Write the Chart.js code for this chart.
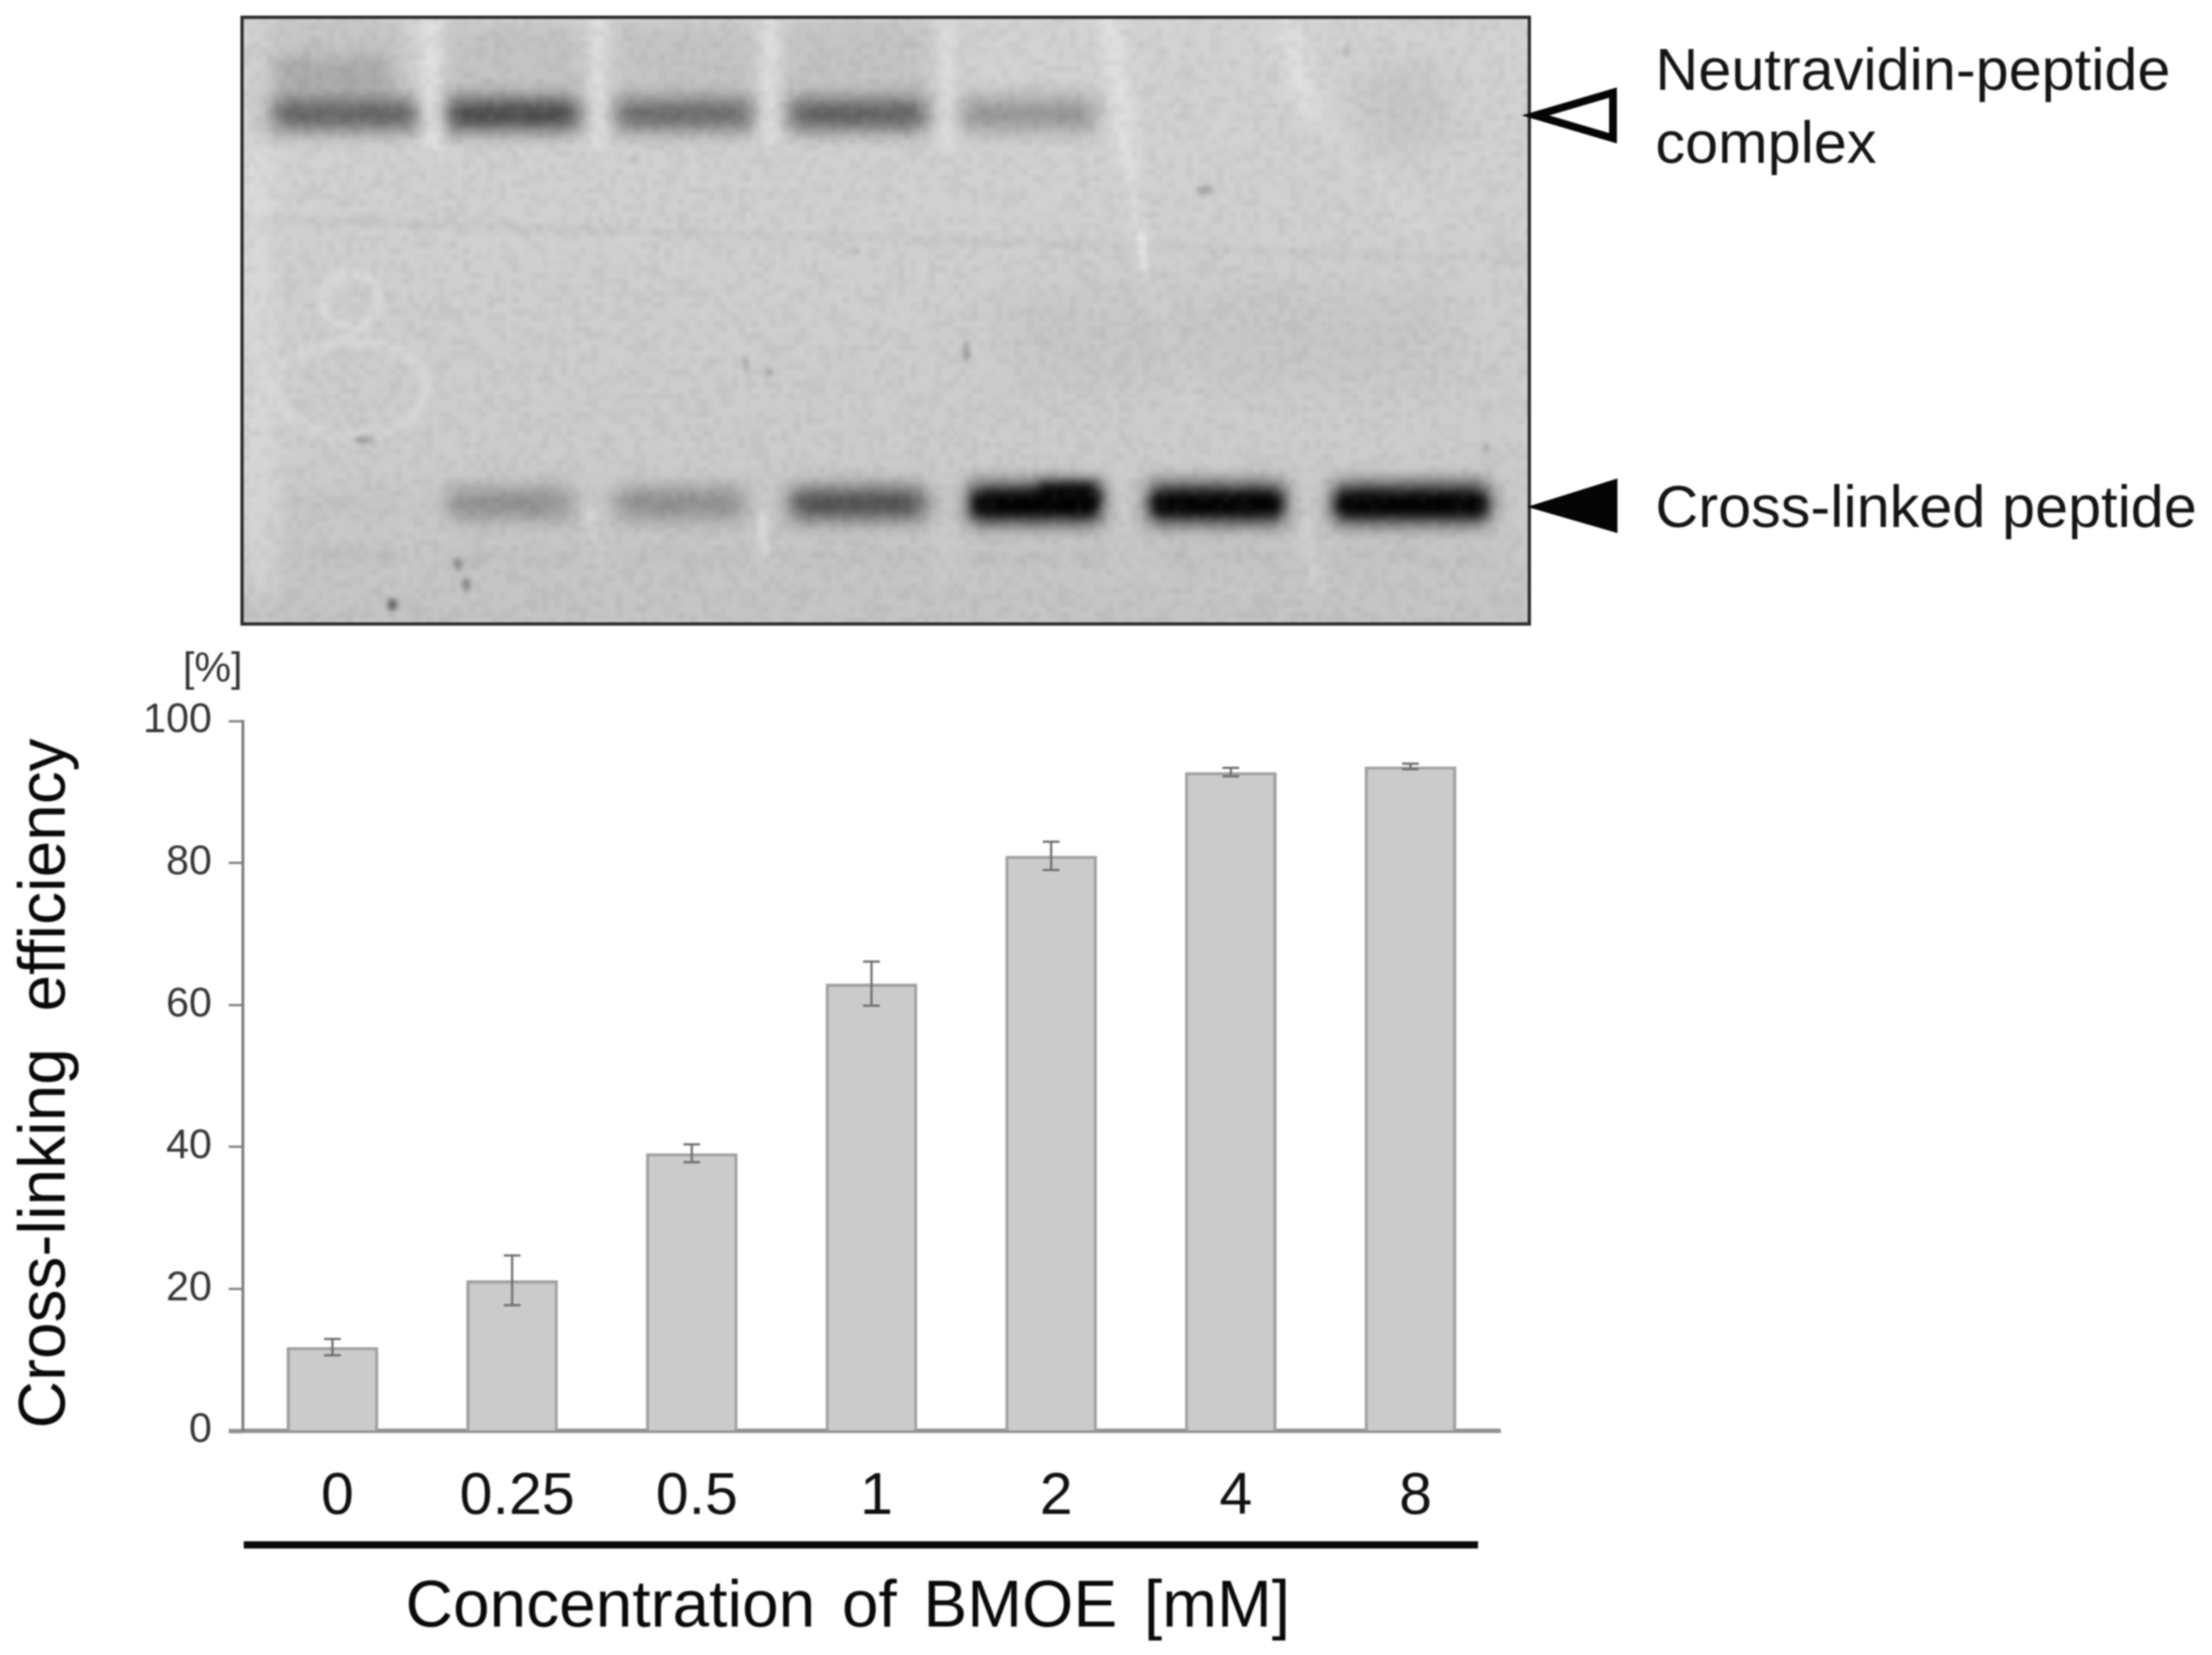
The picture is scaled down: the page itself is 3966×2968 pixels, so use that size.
<!DOCTYPE html>
<html>
<head>
<meta charset="utf-8">
<title>Cross-linking efficiency</title>
<script src="https://cdn.jsdelivr.net/npm/chart.js@4/dist/chart.umd.js"></script>
<style>
    html, body { margin: 0; padding: 0; background: #fff; }
    canvas { display: block; filter: blur(1.4px); }
</style>
</head>
<body>
<canvas id="chart" width="3966" height="2968"></canvas>
<script>
// Values
const categories = ['0', '0.25', '0.5', '1', '2', '4', '8'];
const efficiency = [11.8, 21.2, 39.1, 63, 81, 92.8, 93.6];
const errors = [1.15, 3.5, 1.25, 3.1, 2, 0.6, 0.4];

// Band darkness per gel lane, 0 = none, 1 = black (null = no band)
const complexBand = [0.56, 0.7, 0.52, 0.58, 0.3, null, null];
const peptideBand = [0.02, 0.32, 0.34, 0.7, 1, 1, 1];

const yTitle = 'Cross-linking efficiency';
const xTitle = 'Concentration of BMOE [mM]';
const unitLabel = '[%]';
const complexLabel = ['Neutravidin-peptide', 'complex'];
const peptideLabel = 'Cross-linked peptide';

const FONT = '"Liberation Sans", Arial, sans-serif';
const GEL = { left: 434, top: 31, right: 2742, bottom: 1119 };

// Gel lane extents [left, right]
const complexLanes = [[484, 752], [797, 1042], [1100, 1353], [1411, 1664], [1720, 1968]];
const peptideLanes = [[500, 714], [797, 1030], [1100, 1340], [1411, 1664], [1732, 1980], [2054, 2309], [2385, 2676]];

// Small marks on the gel [x, y, rx, ry, alpha]
const specks = [
    [703, 1084, 9, 11, 0.45], [836, 1048, 8, 11, 0.3], [821, 1012, 8, 11, 0.25],
    [653, 789, 18, 7, 0.22], [2161, 341, 15, 8, 0.22], [1732, 631, 7, 18, 0.22],
    [1337, 653, 5, 14, 0.18], [1380, 668, 6, 6, 0.22], [2414, 92, 5, 10, 0.18],
    [2666, 803, 5, 8, 0.2], [1135, 286, 4, 7, 0.1], [1533, 451, 6, 8, 0.08]
];

// Soft streaks on the gel [x1, y1, x2, y2, width, alpha]
const lightStreaks = [
    [775, 31, 775, 260, 26, 0.5], [1074, 31, 1074, 260, 22, 0.4], [1380, 31, 1380, 260, 24, 0.4],
    [1694, 31, 1698, 260, 22, 0.35], [1990, 31, 2023, 293, 30, 0.45], [2023, 293, 2046, 440, 18, 0.3],
    [2046, 425, 2050, 480, 11, 0.6], [2050, 480, 2146, 734, 24, 0.12], [2300, 31, 2345, 190, 36, 0.4],
    [2345, 190, 2560, 420, 26, 0.12], [1058, 905, 1062, 960, 14, 0.25], [1365, 925, 1370, 990, 16, 0.4],
    [2345, 935, 2365, 1070, 18, 0.22], [1700, 930, 1700, 1040, 16, 0.12], [462, 280, 466, 1040, 50, 0.3]
];

function softRect(ctx, x, y, w, h, alpha, blur) {
    ctx.filter = `blur(${blur}px)`;
    ctx.fillStyle = `rgba(0, 0, 0, ${alpha})`;
    ctx.fillRect(x, y, w, h);
}

function gelTexture() {
    // Fixed mottling, stretched up when it is painted
    const cells = document.createElement('canvas');
    cells.width = 210;
    cells.height = 100;
    const cellCtx = cells.getContext('2d');
    const image = cellCtx.createImageData(cells.width, cells.height);
    for (let i = 0; i < image.data.length; i += 4) {
        const n = Math.sin(i * 12.9898) * 43758.5453;
        const shade = n - Math.floor(n);
        image.data[i] = image.data[i + 1] = image.data[i + 2] = shade > 0.5 ? 255 : 0;
        image.data[i + 3] = Math.abs(shade - 0.5) * 26;
    }
    cellCtx.putImageData(image, 0, 0);
    return cells;
}

function drawGel(ctx) {
    const w = GEL.right - GEL.left;
    const h = GEL.bottom - GEL.top;
    ctx.save();
    ctx.beginPath();
    ctx.rect(GEL.left, GEL.top, w, h);
    ctx.clip();

    const base = ctx.createLinearGradient(0, GEL.top, 0, GEL.bottom);
    base.addColorStop(0, '#d2d2d2');
    base.addColorStop(0.3, '#d0d0d0');
    base.addColorStop(0.75, '#cbcbcb');
    base.addColorStop(1, '#c3c3c3');
    ctx.fillStyle = base;
    ctx.fillRect(GEL.left, GEL.top, w, h);

    // Smears above the complex band
    softRect(ctx, 490, 95, 220, 70, 0.2, 22);
    complexLanes.slice(1, 4).forEach(([l, r]) => softRect(ctx, l, 40, r - l, 130, 0.07, 20));
    softRect(ctx, 480, 32, 240, 40, 0.06, 14);
    softRect(ctx, 2440, 120, 150, 140, 0.05, 30);
    softRect(ctx, 1800, 520, 800, 160, 0.03, 40);

    // Faint line across the gel and faint bands below the peptide band
    ctx.filter = 'blur(6px)';
    ctx.strokeStyle = 'rgba(0, 0, 0, 0.04)';
    ctx.lineWidth = 10;
    ctx.beginPath();
    ctx.moveTo(GEL.left, 392);
    ctx.lineTo(GEL.right, 465);
    ctx.stroke();
    peptideLanes.forEach(([l, r]) => softRect(ctx, l, 985, r - l, 26, 0.03, 12));

    // Bands
    complexBand.forEach((dark, i) => {
        if (dark === null) return;
        const [l, r] = complexLanes[i];
        softRect(ctx, l + 4, 178, r - l - 8, 54, dark, 18);
    });
    peptideBand.forEach((dark, i) => {
        const [l, r] = peptideLanes[i];
        if (dark > 0.8) {
            softRect(ctx, l + 6, 868, r - l - 12, 70, 0.85, 17);
            softRect(ctx, l + 14, 888, r - l - 28, 32, 1, 10);
        } else {
            softRect(ctx, l + 6, 878, r - l - 12, 50, dark, 19);
        }
    });
    // The band at 2 mM rises towards its right end
    softRect(ctx, 1860, 868, 108, 28, 1, 12);

    // Light marks
    ctx.lineCap = 'round';
    lightStreaks.forEach(([x1, y1, x2, y2, lw, alpha]) => {
        ctx.filter = `blur(${lw / 2}px)`;
        ctx.strokeStyle = `rgba(255, 255, 255, ${alpha})`;
        ctx.lineWidth = lw;
        ctx.beginPath();
        ctx.moveTo(x1, y1);
        ctx.lineTo(x2, y2);
        ctx.stroke();
    });
    ctx.filter = 'blur(7px)';
    ctx.strokeStyle = 'rgba(255, 255, 255, 0.3)';
    ctx.lineWidth = 13;
    ctx.beginPath();
    ctx.ellipse(630, 539, 50, 50, 0, 0, Math.PI * 2);
    ctx.stroke();
    ctx.strokeStyle = 'rgba(255, 255, 255, 0.2)';
    ctx.lineWidth = 18;
    ctx.beginPath();
    ctx.ellipse(630, 697, 135, 85, 0, 0, Math.PI * 2);
    ctx.stroke();

    // Dark specks
    ctx.filter = 'blur(4px)';
    specks.forEach(([x, y, rx, ry, alpha]) => {
        ctx.fillStyle = `rgba(0, 0, 0, ${alpha})`;
        ctx.beginPath();
        ctx.ellipse(x, y, rx, ry, 0, 0, Math.PI * 2);
        ctx.fill();
    });

    // Mottling over everything
    ctx.filter = 'none';
    ctx.imageSmoothingEnabled = true;
    ctx.drawImage(gelTexture(), GEL.left, GEL.top, w, h);
    ctx.restore();

    ctx.strokeStyle = '#2f2f2f';
    ctx.lineWidth = 6;
    ctx.strokeRect(GEL.left, GEL.top, w, h);
}

function drawAnnotations(ctx) {
    // Open arrowhead for the complex, filled one for the peptide
    ctx.lineJoin = 'miter';
    ctx.strokeStyle = '#050505';
    ctx.lineWidth = 14;
    ctx.beginPath();
    ctx.moveTo(2753, 207);
    ctx.lineTo(2892, 166);
    ctx.lineTo(2892, 248);
    ctx.closePath();
    ctx.stroke();
    ctx.fillStyle = '#050505';
    ctx.beginPath();
    ctx.moveTo(2738, 909);
    ctx.lineTo(2900, 858);
    ctx.lineTo(2900, 956);
    ctx.closePath();
    ctx.fill();

    ctx.fillStyle = '#151515';
    ctx.textAlign = 'left';
    ctx.textBaseline = 'alphabetic';
    ctx.font = `106.5px ${FONT}`;
    ctx.fillText(complexLabel[0], 2968, 161);
    ctx.fillText(complexLabel[1], 2968, 292);
    ctx.fillText(peptideLabel, 2968, 945);

    ctx.fillStyle = '#333333';
    ctx.font = `74px ${FONT}`;
    ctx.fillText(unitLabel, 328, 1222);

    // Axis captions and the rule under the doses
    ctx.fillStyle = '#0a0a0a';
    ctx.fillRect(437, 2764, 2213, 13);
    ctx.font = `118px ${FONT}`;
    ctx.textAlign = 'center';
    ctx.wordSpacing = '15px';
    ctx.fillText(xTitle, 1520, 2917);
    ctx.save();
    ctx.translate(116, 1943);
    ctx.rotate(-Math.PI / 2);
    ctx.wordSpacing = '33px';
    ctx.fillText(yTitle, 0, 0);
    ctx.restore();
}

const errorBars = {
    id: 'errorBars',
    afterDatasetsDraw(chart) {
        const { ctx, scales: { x, y } } = chart;
        ctx.save();
        ctx.strokeStyle = '#6e6e6e';
        ctx.lineWidth = 4;
        efficiency.forEach((value, i) => {
            const px = x.getPixelForValue(i);
            const hi = y.getPixelForValue(value + errors[i]);
            const lo = y.getPixelForValue(value - errors[i]);
            ctx.beginPath();
            ctx.moveTo(px, hi);
            ctx.lineTo(px, lo);
            ctx.moveTo(px - 15, hi);
            ctx.lineTo(px + 15, hi);
            ctx.moveTo(px - 15, lo);
            ctx.lineTo(px + 15, lo);
            ctx.stroke();
        });
        ctx.restore();
    }
};

const figureParts = {
    id: 'figureParts',
    afterDraw(chart) {
        const { ctx } = chart;
        ctx.save();
        drawGel(ctx);
        drawAnnotations(ctx);
        ctx.restore();
    }
};

document.addEventListener('DOMContentLoaded', () => {
    Chart.defaults.font.family = FONT;

    new Chart(document.getElementById('chart').getContext('2d'), {
        type: 'bar',
        data: {
            labels: categories,
            datasets: [{
                data: efficiency,
                backgroundColor: '#cbcbcb',
                borderColor: '#a2a2a2',
                borderWidth: 6,
                categoryPercentage: 1,
                barPercentage: 0.51
            }]
        },
        options: {
            responsive: false,
            animation: false,
            devicePixelRatio: 1,
            layout: { padding: { top: 1293, left: 0, right: 1276, bottom: 0 } },
            plugins: {
                legend: { display: false },
                tooltip: { enabled: false }
            },
            scales: {
                x: {
                    afterFit: scale => { scale.height = 402; },
                    border: { color: '#929292', width: 8 },
                    grid: { drawOnChartArea: false, drawTicks: false },
                    ticks: {
                        color: '#111111',
                        font: { size: 106 },
                        padding: 56,
                        labelOffset: 9,
                        maxRotation: 0,
                        autoSkip: false
                    }
                },
                y: {
                    min: 0,
                    max: 100,
                    afterFit: scale => { scale.width = 435; },
                    border: { color: '#7c7c7c', width: 5 },
                    grid: {
                        drawOnChartArea: false,
                        tickLength: 25,
                        tickWidth: c => (c.tick.value === 0 ? 8 : 4),
                        tickColor: c => (c.tick.value === 0 ? '#929292' : '#7c7c7c')
                    },
                    ticks: {
                        stepSize: 20,
                        color: '#363636',
                        font: { size: 74 },
                        padding: 30
                    }
                }
            }
        },
        plugins: [errorBars, figureParts]
    });
});
</script>
</body>
</html>
